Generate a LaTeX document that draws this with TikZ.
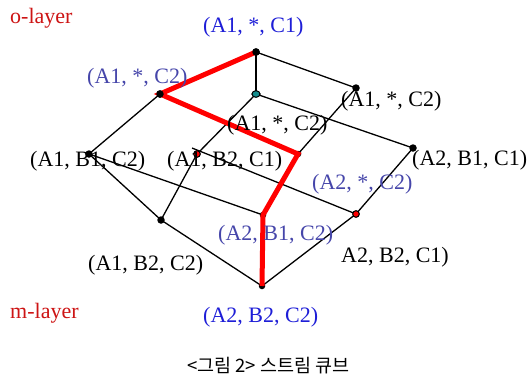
\documentclass[tikz,border=0pt]{standalone}
\usepackage{fontspec}
\usetikzlibrary{shapes.geometric}
\setmainfont{Liberation Serif}
\newfontfamily\krfont{Noto Sans CJK KR}
\definecolor{lblblue}{RGB}{30,30,215}
\definecolor{slate}{RGB}{70,70,170}
\definecolor{layerred}{RGB}{205,20,20}
\definecolor{tealdot}{RGB}{20,140,140}
\begin{document}
\begin{tikzpicture}[x=1pt,y=-1pt,
  edge/.style={draw=black,line width=1.3pt},
  redpath/.style={draw=red,line width=5pt,line join=miter,line cap=butt},
  vtx/.style={circle,fill=black,inner sep=0pt,minimum size=7.5pt},
  reddot/.style={circle,fill=red,draw=black,line width=0.9pt,inner sep=0pt,minimum size=6.5pt},
  tealv/.style={ellipse,fill=tealdot,draw=black,line width=0.9pt,inner sep=0pt,minimum width=8pt,minimum height=6.5pt},
  lbl/.style={anchor=base west,inner sep=0pt,font=\fontsize{22}{24}\selectfont},
  layer/.style={lbl,text=layerred}
]
\useasboundingbox (0,0) rectangle (531,378);
% vertices
\node[vtx] (T) at (256,52) {};
\node[vtx] (L) at (160,94) {};
\node[tealv] (TB) at (256,94) {};
\node[vtx] (R) at (356,88) {};
\node[vtx,minimum size=6.5pt] (M) at (298,154) {};
\node[vtx] (LB1) at (89,154) {};
\node[vtx] (RB1) at (413,148) {};
\node[reddot] (AB) at (197,154) {};
\node[vtx] (LB2) at (161,220) {};
\node[vtx,minimum size=6.5pt] (MB1) at (263,215) {};
\node[reddot] (RB2) at (356,214) {};
\node[vtx,minimum size=6.5pt] (BOT) at (262,286) {};
\coordinate (ABs) at (192,148);
% black edges
\draw[edge] (T.center) -- (R.center);
\draw[edge,line width=2pt] (T.center) -- (TB.center);
\draw[edge] (TB.center) -- (RB1.center);
\draw[edge] (R.center) -- (M.center);
\draw[edge] (RB1.center) -- (RB2.center);
\draw[edge] (L.center) -- (LB1.center);
\draw[edge] (TB.center) -- (AB.center) -- (LB2.center);
\draw[edge] (ABs) -- (RB2.center);
\draw[edge] (LB1.center) -- (MB1.center);
\draw[edge] (LB1.center) -- (LB2.center);
\draw[edge] (LB2.center) -- (BOT.center);
\draw[edge] (BOT.center) -- (RB2.center);
\draw[edge] (M.center) -- (MB1.center);
% red path
\draw[redpath] (T.center) -- (L.center) -- (M.center) -- (MB1.center) -- (BOT.center);
% redraw dots on top
\node[vtx] at (T) {};
\node[vtx] at (L) {};
\node[tealv] at (TB) {};
\node[reddot] at (AB) {};
\node[reddot] at (RB2) {};
% labels
\node[layer] (ol) at (10,23) {o-layer};
\node[layer] (ml) at (10,318) {m-layer};
\node[lbl,text=lblblue] (tT) at (203,32) {(A1, *, C1)};
\node[lbl,text=slate] (tL) at (87,83) {(A1, *, C2)};
\node[lbl] (tR) at (341,106) {(A1, *, C2)};
\node[lbl] (tM) at (227,130) {(A1, *, C2)};
\node[lbl] (tLB1) at (30,166) {(A1, B1, C2)};
\node[lbl] (tAB) at (167,166) {(A1, B2, C1)};
\node[lbl] (tRB1) at (412,165) {(A2, B1, C1)};
\node[lbl,text=slate] (tRB2) at (312,189) {(A2, *, C2)};
\node[lbl,text=slate] (tMB1) at (218,240) {(A2, B1, C2)};
\node[lbl] (tLB2) at (88,270) {(A1, B2, C2)};
\node[lbl] (tC1) at (341,262) {A2, B2, C1)};
\node[lbl,text=lblblue] (tBOT) at (203,322) {(A2, B2, C2)};
\node[anchor=base west,inner sep=0pt,font=\krfont\fontsize{18.5}{20}\selectfont] (cap) at (187,372) {<그림 2> 스트림 큐브};
\end{tikzpicture}
\end{document}
